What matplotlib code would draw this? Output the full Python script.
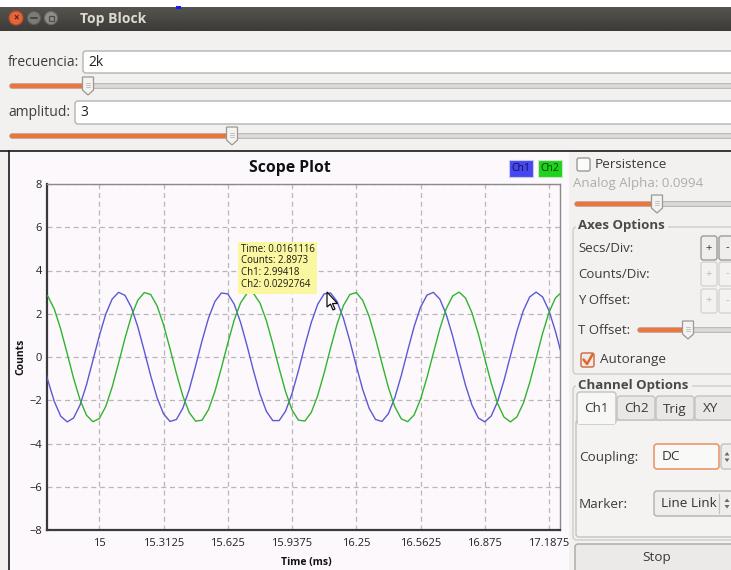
import numpy as np
import matplotlib
matplotlib.use("Agg")
import matplotlib.pyplot as plt
from matplotlib.patches import FancyBboxPatch, Rectangle, Circle, Polygon

plt.rcParams['font.family'] = ['Open Sans', 'DejaVu Sans']

# ---- scope data (32 kHz sample clock, time in ms) ----
sample_index = np.arange(471, 553)
time_ms = sample_index / 32.0
ch1 = [0.05, -1.09, -2.06, -2.74, -3.00, -2.82, -2.22, -1.29, -0.16, 0.98,
       1.98, 2.68, 2.99, 2.85, 2.29, 1.39, 0.28, -0.87, -1.89, -2.63,
       -2.98, -2.89, -2.37, -1.50, -0.40, 0.76, 1.80, 2.57, 2.96, 2.92,
       2.44, 1.59, 0.52, -0.64, -1.70, -2.51, -2.94, -2.94, -2.50, -1.69,
       -0.63, 0.53, 1.60, 2.44, 2.92, 2.96, 2.57, 1.79, 0.74, -0.41,
       -1.50, -2.37, -2.89, -2.98, -2.62, -1.88, -0.86, 0.29, 1.40, 2.30,
       2.86, 2.99, 2.68, 1.97, 0.97, -0.18, -1.30, -2.22, -2.82, -3.00,
       -2.73, -2.06, -1.08, 0.06, 1.19, 2.14, 2.78, 3.00, 2.78, 2.14,
       1.19, 0.06]
ch2 = [3.00, 2.81, 2.21, 1.28, 0.16, -0.99, -1.98, -2.69, -2.99, -2.85,
       -2.29, -1.39, -0.28, 0.87, 1.90, 2.63, 2.98, 2.89, 2.36, 1.49,
       0.39, -0.76, -1.80, -2.57, -2.97, -2.92, -2.43, -1.59, -0.51, 0.64,
       1.71, 2.51, 2.95, 2.94, 2.50, 1.69, 0.62, -0.53, -1.61, -2.45,
       -2.92, -2.96, -2.56, -1.78, -0.74, 0.42, 1.51, 2.38, 2.89, 2.98,
       2.62, 1.88, 0.85, -0.30, -1.41, -2.30, -2.86, -2.99, -2.68, -1.96,
       -0.96, 0.18, 1.30, 2.23, 2.82, 3.00, 2.73, 2.05, 1.07, -0.07,
       -1.20, -2.15, -2.78, -3.00, -2.77, -2.14, -1.18, -0.05, 1.09, 2.06,
       2.73, 3.00]
x_ticks = [15, 15.3125, 15.625, 15.9375, 16.25, 16.5625, 16.875, 17.1875]
x_tick_labels = ['15', '15.3125', '15.625', '15.9375', '16.25', '16.5625', '16.875', '17.1875']
y_ticks = [-8, -6, -4, -2, 0, 2, 4, 6, 8]
x_range = (14.747, 17.241)
y_range = (-8, 8)
tooltip_lines = ['Time: 0.0161116', 'Counts: 2.8973', 'Ch1: 2.99418', 'Ch2: 0.0292764']

W, H = 731, 570
fig = plt.figure(figsize=(W / 100, H / 100), dpi=100)
fig.patch.set_facecolor('#f2f1f0')

# ---- window chrome, drawn in pixel coordinates ----
bg = fig.add_axes([0, 0, 1, 1], zorder=0)
bg.set_xlim(0, W)
bg.set_ylim(H, 0)
bg.axis('off')

ORANGE = '#e9753f'
PANEL = '#f2f1f0'
TXT = '#3c3c3c'


def rbox(ax, x0, y0, x1, y1, fc, ec, lw=1.0, r=3, z=1):
    p = FancyBboxPatch((x0, y0), x1 - x0, y1 - y0,
                       boxstyle=f"round,pad=0,rounding_size={r}",
                       fc=fc, ec=ec, lw=lw, zorder=z)
    ax.add_patch(p)
    return p


def slider(ax, x0, x1, xh, y):
    ax.plot([x0, x1], [y, y], color='#b9b7b3', lw=4.2, solid_capstyle='round', zorder=2)
    ax.plot([x0, x1], [y, y], color='#dcdad6', lw=2.6, solid_capstyle='round', zorder=2)
    ax.plot([x0, xh], [y, y], color=ORANGE, lw=3.2, solid_capstyle='round', zorder=3)
    hw = 5.5
    handle = Polygon([(xh - hw, y - 9), (xh + hw, y - 9), (xh + hw, y + 4),
                      (xh, y + 9), (xh - hw, y + 4)], closed=True,
                     fc='#f4f3f2', ec='#9a9893', lw=0.9, zorder=4)
    ax.add_patch(handle)
    for dy in (-2, 0, 2):
        ax.plot([xh - 2, xh + 2], [y + dy - 1, y + dy - 1], color='#b0aea9', lw=0.5, zorder=5)


# white strip above the title bar
bg.add_patch(Rectangle((0, 0), W, 7, fc='white', ec='none', zorder=1))
bg.add_patch(Rectangle((176, 6), 5, 3, fc='#1a1aff', ec='none', zorder=3))
# title bar gradient
grad = np.linspace(0, 1, 24).reshape(-1, 1)
bg.imshow(grad, extent=(0, W, 31, 7), cmap=matplotlib.colors.LinearSegmentedColormap.from_list(
    'tb', ['#55544f', '#3c3b37']), aspect='auto', zorder=1, interpolation='bilinear')
bg.add_patch(Circle((16, 18), 7, fc='#e4643b', ec='#b84a28', lw=0.8, zorder=3))
bg.text(16, 18.3, '×', color='#5a2010', fontsize=7, ha='center', va='center', zorder=4, fontweight='bold')
bg.add_patch(Circle((34, 18), 6.5, fc='#7c7b76', ec='#5f5e5a', lw=0.8, zorder=3))
bg.plot([31, 37], [18, 18], color='#3e3d39', lw=1.2, zorder=4)
bg.add_patch(Circle((51, 18), 6.5, fc='#8f8e89', ec='#6b6a66', lw=0.8, zorder=3))
bg.add_patch(Rectangle((48.5, 15.5), 5, 5, fc='none', ec='#4d4c48', lw=0.9, zorder=4))
bg.text(80, 18.5, 'Top Block', color='#dfdbd2', fontsize=10, fontweight='bold', ha='left', va='center', zorder=4)

# parameter rows
bg.text(8, 62, 'frecuencia:', color=TXT, fontsize=10, ha='left', va='center', zorder=3)
rbox(bg, 83, 51, 745, 73, 'white', '#b5b3af', r=3, z=2)
bg.text(88, 62, '2k', color='#222222', fontsize=10, ha='left', va='center', zorder=3)
slider(bg, 12, 740, 88, 86)

bg.text(8, 113, 'amplitud:', color=TXT, fontsize=10, ha='left', va='center', zorder=3)
rbox(bg, 75, 101, 745, 124, 'white', '#b5b3af', r=3, z=2)
bg.text(80, 113, '3', color='#222222', fontsize=10, ha='left', va='center', zorder=3)
slider(bg, 12, 740, 232, 136)

# plot canvas
CANVAS = '#fcf8fc'
bg.add_patch(Rectangle((9, 151), 560, 430, fc=CANVAS, ec='none', zorder=1))
bg.plot([0, W], [151, 151], color='#1a1a1a', lw=1.2, zorder=3)
bg.plot([9, 9], [151, H], color='#1a1a1a', lw=1.2, zorder=3)

bg.text(290, 168, 'Scope Plot', color='#111111', fontsize=11.3, fontweight='bold', ha='center', va='center', zorder=3)
bg.add_patch(Rectangle((509, 160), 24, 17, fc='#4747f2', ec='#c8c8e8', lw=0.8, zorder=3))
bg.text(521, 168.5, 'Ch1', color='#10104a', fontsize=7.5, ha='center', va='center', zorder=4)
bg.add_patch(Rectangle((538, 160), 24, 17, fc='#1ed21e', ec='#c8e8c8', lw=0.8, zorder=3))
bg.text(550, 168.5, 'Ch2', color='#0a3a0a', fontsize=7.5, ha='center', va='center', zorder=4)
bg.text(21, 357, 'Counts', color='#111111', fontsize=7.5, fontweight='bold', rotation=90,
        ha='center', va='center', zorder=3)
bg.text(306, 562, 'Time (ms)', color='#111111', fontsize=7.5, fontweight='bold',
        ha='center', va='center', zorder=3)

# right-hand control panel
bg.add_patch(Rectangle((569, 152), W - 569, H - 152, fc=PANEL, ec='none', zorder=1))
rbox(bg, 577, 158, 590, 171, '#fbfbfb', '#9c9a96', r=2, z=3)
bg.text(595, 164.5, 'Persistence', color=TXT, fontsize=9.7, ha='left', va='center', zorder=3)
bg.text(573, 184, 'Analog Alpha: 0.0994', color='#aeaca8', fontsize=9.5, ha='left', va='center', zorder=3)
slider(bg, 577, 740, 657, 204)

rbox(bg, 573, 227, 745, 374, 'none', '#cfcdc9', r=4, z=2)
bg.add_patch(Rectangle((576, 220), 92, 12, fc=PANEL, ec='none', zorder=2))
bg.text(578, 226, 'Axes Options', color='#4a4a4a', fontsize=9.5, fontweight='bold', ha='left', va='center', zorder=3)

rows = [('Secs/Div:', 248, True), ('Counts/Div:', 274, False), ('Y Offset:', 301, False)]
for label, y, enabled in rows:
    bg.text(578, y, label, color=TXT, fontsize=9.5, ha='left', va='center', zorder=3)
    ec = '#9e9c98' if enabled else '#d6d4d0'
    fc = '#efeeec' if enabled else '#f3f2f1'
    tc = '#333333' if enabled else '#bdbbb7'
    rbox(bg, 701, y - 12, 717, y + 12, fc, ec, r=2.5, z=3)
    rbox(bg, 719, y - 12, 740, y + 12, fc, ec, r=2.5, z=3)
    bg.text(709, y, '+', color=tc, fontsize=8, ha='center', va='center', zorder=4)
    bg.text(727, y, '-', color=tc, fontsize=8, ha='center', va='center', zorder=4)

bg.text(578, 330, 'T Offset:', color=TXT, fontsize=9.5, ha='left', va='center', zorder=3)
slider(bg, 640, 740, 688, 330)

rbox(bg, 581, 353, 594, 367, '#eeeae6', '#c8683c', r=2, z=3)
bg.plot([583.5, 587, 592.5], [359.5, 364, 354.5], color='#e0662f', lw=1.8, zorder=4,
        solid_capstyle='round', solid_joinstyle='round')
bg.text(600, 360, 'Autorange', color=TXT, fontsize=9.7, ha='left', va='center', zorder=3)

rbox(bg, 573, 386, 745, 540, 'none', '#cfcdc9', r=4, z=2)
bg.add_patch(Rectangle((576, 378), 116, 12, fc=PANEL, ec='none', zorder=2))
bg.text(578, 385, 'Channel Options', color='#4a4a4a', fontsize=9.5, fontweight='bold', ha='left', va='center', zorder=3)

# tab widget
rbox(bg, 576, 420, 745, 537, '#f4f3f2', '#c4c2be', r=3, z=2)
tabs = [('Ch1', 577, 616, True), ('Ch2', 617, 655, False), ('Trig', 656, 694, False), ('XY', 695, 740, False)]
for name, x0, x1, active in tabs:
    top = 392 if active else 396
    rbox(bg, x0, top, x1, 424 if active else 420, '#f7f7f6' if active else '#e9e8e6',
         '#c4c2be', r=3, z=3 if not active else 4)
    bg.text((x0 + x1) / 2 if x1 < 731 else 711, 409, name, color='#3a3a3a', fontsize=9.7,
            ha='center', va='center', zorder=5)
bg.add_patch(Rectangle((577.6, 419), 37.8, 5, fc='#f7f7f6', ec='none', zorder=5))

bg.text(579, 457, 'Coupling:', color=TXT, fontsize=9.7, ha='left', va='center', zorder=3)
rbox(bg, 654, 444, 719, 469, '#f9f9f8', '#e89a6c', lw=1.2, r=3, z=3)
bg.text(662, 457, 'DC', color='#333333', fontsize=9.7, ha='left', va='center', zorder=4)
rbox(bg, 721, 444, 745, 469, '#efeeec', '#c4c2be', r=3, z=3)

bg.text(579, 504, 'Marker:', color=TXT, fontsize=9.7, ha='left', va='center', zorder=3)
rbox(bg, 654, 491, 745, 516, '#efeeed', '#b3b1ad', r=3, z=3)
t = bg.text(661, 503.5, 'Line Link', color='#333333', fontsize=9.7, ha='left', va='center', zorder=4)
t.set_clip_path(Rectangle((655, 492), 63, 23, transform=bg.transData))
bg.plot([719, 719], [494, 513], color='#c4c2be', lw=0.9, zorder=4)
for cy in (457, 503.5):
    bg.add_patch(Polygon([(724.5, cy - 1.5), (727, cy - 5), (729.5, cy - 1.5)], fc='#6a6a6a', ec='none', zorder=5))
    bg.add_patch(Polygon([(724.5, cy + 1.5), (727, cy + 5), (729.5, cy + 1.5)], fc='#6a6a6a', ec='none', zorder=5))

rbox(bg, 575, 544, 745, 574, '#eceae8', '#a8a6a2', r=3, z=3)
bg.text(657, 558, 'Stop', color='#3a3a3a', fontsize=9.7, ha='center', va='center', zorder=4)

# ---- the scope plot ----
left, right, top, bottom = 47.3, 560.0, 184.0, 530.0
ax = fig.add_axes([left / W, (H - bottom) / H, (right - left) / W, (bottom - top) / H], zorder=2)
ax.set_facecolor(CANVAS)
ax.plot(time_ms, ch1, color='#5a5ad4', lw=1.0, zorder=3)
ax.plot(time_ms, ch2, color='#30b430', lw=1.0, zorder=3)
ax.set_xlim(*x_range)
ax.set_ylim(*y_range)
ax.set_xticks(x_ticks)
ax.set_xticklabels(x_tick_labels)
ax.set_yticks(y_ticks)
ax.grid(True, color='#b8b8b8', lw=0.9, linestyle=(0, (4, 3)))
ax.tick_params(axis='x', length=0, labelsize=8, colors='#222222', pad=6)
ax.tick_params(axis='y', length=0, labelsize=8, colors='#222222', pad=4)
for lbl in ax.get_xticklabels():
    lbl.set_clip_on(False)
for side in ('left', 'bottom'):
    ax.spines[side].set_color('#3a3a3a')
    ax.spines[side].set_linewidth(1.6)
for side in ('top', 'right'):
    ax.spines[side].set_color('#8a8a8a')
    ax.spines[side].set_linewidth(1.0)

# ---- hover tooltip and pointer ----
ov = fig.add_axes([0, 0, 1, 1], zorder=5)
ov.set_xlim(0, W)
ov.set_ylim(H, 0)
ov.axis('off')
ov.patch.set_alpha(0)
ov.add_patch(Rectangle((238, 242), 79, 52, fc='#fbf7a0', ec='none', zorder=2))
for i, line in enumerate(tooltip_lines):
    ov.text(241, 249 + i * 11.7, line, color='#1a1a1a', fontsize=6.9, ha='left', va='center', zorder=3)
cursor = Polygon([(327, 292), (327, 307), (330.5, 304), (333, 310), (335, 309),
                  (332.5, 303.5), (337.5, 303.5)], closed=True,
                 fc='white', ec='#111111', lw=0.9, zorder=4)
ov.add_patch(cursor)

fig.savefig('out.png', dpi=100, facecolor=fig.get_facecolor())
